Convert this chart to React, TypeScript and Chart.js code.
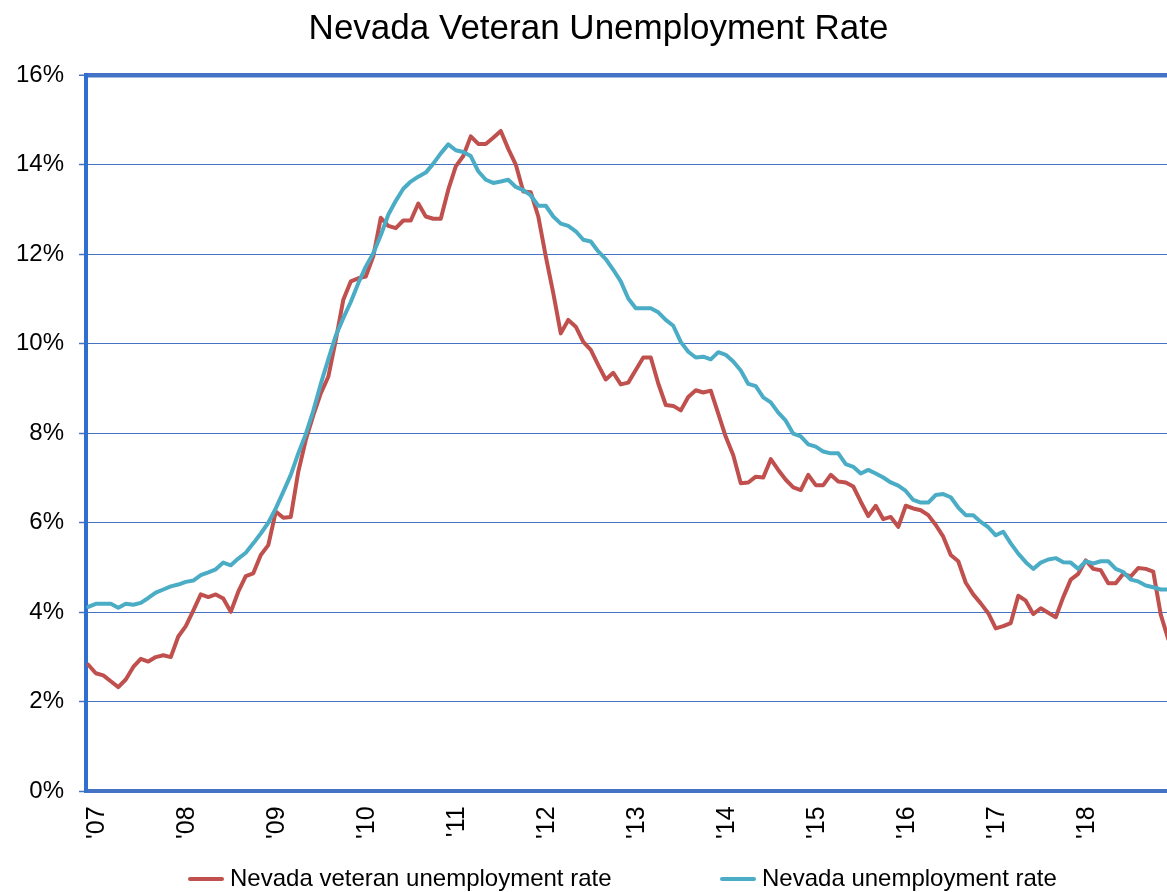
import React, { useEffect, useRef } from "react";
import { Chart, registerables } from "chart.js";

Chart.register(...registerables);

const TITLE = "Nevada Veteran Unemployment Rate";
const seriesNames = ["Nevada veteran unemployment rate", "Nevada unemployment rate"];
const yearLabels = ["'07", "'08", "'09", "'10", "'11", "'12", "'13", "'14", "'15", "'16", "'17", "'18"];
const yTicks = [0, 2, 4, 6, 8, 10, 12, 14, 16];

// Monthly values, Jan 2007 onward
const veteranRate = [
  2.83, 2.64, 2.59, 2.46, 2.33, 2.5, 2.78, 2.96, 2.9, 3.0, 3.04, 3.0,
  3.46, 3.69, 4.04, 4.4, 4.34, 4.4, 4.31, 4.01, 4.46, 4.81, 4.87, 5.28,
  5.5, 6.25, 6.11, 6.13, 7.14, 7.85, 8.4, 8.89, 9.26, 10.08, 10.98, 11.39,
  11.46, 11.5, 11.95, 12.81, 12.63, 12.58, 12.75, 12.75, 13.13, 12.84, 12.79, 12.79,
  13.44, 13.96, 14.19, 14.63, 14.46, 14.46, 14.6, 14.75, 14.35, 14.0, 13.4, 13.38,
  12.84, 11.95, 11.13, 10.23, 10.53, 10.38, 10.04, 9.86, 9.52, 9.2, 9.35, 9.09,
  9.13, 9.41, 9.69, 9.69, 9.11, 8.63, 8.61, 8.51, 8.81, 8.96, 8.91, 8.95,
  8.44, 7.92, 7.51, 6.88, 6.9, 7.03, 7.01, 7.42, 7.18, 6.96, 6.79, 6.73,
  7.07, 6.84, 6.84, 7.07, 6.92, 6.9, 6.81, 6.47, 6.15, 6.38, 6.08, 6.13,
  5.91, 6.38, 6.32, 6.28, 6.17, 5.95, 5.69, 5.28, 5.14, 4.66, 4.4, 4.2,
  3.98, 3.64, 3.69, 3.76, 4.37, 4.26, 3.96, 4.09, 3.99, 3.89, 4.34, 4.73,
  4.86, 5.16, 4.97, 4.94, 4.65, 4.65, 4.86, 4.8, 4.99, 4.97, 4.91, 3.95,
  3.4,
];

const nevadaRate = [
  4.12, 4.19, 4.19, 4.19, 4.1, 4.19, 4.17, 4.21, 4.32, 4.44, 4.51, 4.58,
  4.62, 4.68, 4.71, 4.83, 4.89, 4.96, 5.11, 5.05, 5.2, 5.33, 5.54, 5.76,
  6.0, 6.32, 6.69, 7.07, 7.55, 7.98, 8.5, 9.1, 9.65, 10.18, 10.57, 10.93,
  11.35, 11.72, 12.02, 12.42, 12.88, 13.19, 13.46, 13.62, 13.73, 13.82, 14.02, 14.25,
  14.45, 14.32, 14.28, 14.19, 13.85, 13.66, 13.59, 13.62, 13.66, 13.5, 13.43, 13.31,
  13.08, 13.08, 12.84, 12.68, 12.63, 12.51, 12.32, 12.28, 12.06, 11.89, 11.65, 11.39,
  11.01, 10.79, 10.79, 10.79, 10.7, 10.53, 10.4, 10.04, 9.82, 9.69, 9.71, 9.65,
  9.81, 9.75, 9.6, 9.4, 9.1, 9.05, 8.8, 8.69, 8.46, 8.28, 7.99, 7.93,
  7.75, 7.7, 7.59, 7.55, 7.55, 7.31, 7.25, 7.1, 7.18, 7.1, 7.01, 6.9,
  6.83, 6.71, 6.51, 6.45, 6.45, 6.62, 6.64, 6.57, 6.34, 6.17, 6.17, 6.02,
  5.9, 5.72, 5.8, 5.54, 5.31, 5.12, 4.97, 5.11, 5.18, 5.21, 5.12, 5.11,
  4.97, 5.14, 5.09, 5.14, 5.14, 4.97, 4.9, 4.73, 4.69, 4.6, 4.56, 4.51,
  4.51,
];

const RED = "#C0504D";
const BLUE = "#4BACC6";
const AXIS = "#4472C4";
const LEFT_AXIS = "#2E6FD0";
const FONT = "'Liberation Sans', Arial, Helvetica, sans-serif";

const CANVAS_W = 1196;
const CANVAS_H = 892;
const legendLeft = [188, 720];

export default function App() {
  const ref = useRef<HTMLCanvasElement>(null);

  useEffect(() => {
    if (!ref.current) return;
    const chart = new Chart(ref.current, {
      type: "line",
      data: {
        datasets: [
          {
            label: seriesNames[0],
            data: veteranRate.map((y, i) => ({ x: i, y })),
            borderColor: RED,
            backgroundColor: RED,
            borderWidth: 4,
            pointRadius: 0,
            tension: 0,
            borderJoinStyle: "round",
            borderCapStyle: "round",
            order: 1,
          },
          {
            label: seriesNames[1],
            data: nevadaRate.map((y, i) => ({ x: i, y })),
            borderColor: BLUE,
            backgroundColor: BLUE,
            borderWidth: 4,
            pointRadius: 0,
            tension: 0,
            borderJoinStyle: "round",
            borderCapStyle: "round",
            order: 0,
          },
        ],
      },
      options: {
        responsive: false,
        animation: false,
        devicePixelRatio: 1,
        layout: { padding: { left: 1, right: 0, top: 0, bottom: 38 } },
        plugins: {
          legend: { display: false },
          tooltip: { enabled: false },
          title: {
            display: true,
            text: TITLE,
            color: "#000",
            font: { family: FONT, size: 35, weight: "normal" },
            padding: { top: 8, bottom: 25 },
          },
        },
        scales: {
          x: {
            type: "linear",
            min: -0.3,
            max: 147.7,
            afterBuildTicks: (axis: any) => {
              axis.ticks = yearLabels.map((_, k) => ({ value: k * 12 }));
            },
            grid: { display: false, drawTicks: false },
            border: { display: true, color: AXIS, width: 4 },
            ticks: {
              autoSkip: false,
              maxRotation: 90,
              minRotation: 90,
              labelOffset: 9,
              padding: 15,
              color: "#000",
              font: { family: FONT, size: 25 },
              callback: (v: any) => yearLabels[Math.round(Number(v) / 12)] ?? "",
            },
          },
          y: {
            min: 0,
            max: 16,
            afterBuildTicks: (axis: any) => {
              axis.ticks = yTicks.map((v) => ({ value: v }));
            },
            grid: {
              color: AXIS,
              lineWidth: (ctx: any) => (ctx.tick && ctx.tick.value === 16 ? 4.5 : 1),
              drawTicks: true,
              tickLength: 7,
              tickColor: AXIS,
              tickWidth: 1.5,
            },
            border: { color: LEFT_AXIS, width: 4 },
            ticks: {
              padding: 15,
              color: "#000",
              font: { family: FONT, size: 24 },
              callback: (v: any) => `${v}%`,
            },
          },
        },
      },
    });
    return () => chart.destroy();
  }, []);

  const colors = [RED, BLUE];

  return (
    <div
      style={{
        position: "absolute",
        left: 0,
        top: 0,
        width: 1167,
        height: 892,
        overflow: "hidden",
        background: "#fff",
      }}
    >
      <canvas
        ref={ref}
        width={CANVAS_W}
        height={CANVAS_H}
        style={{ display: "block", width: CANVAS_W, height: CANVAS_H }}
      />
      {seriesNames.map((name, k) => (
        <div
          key={name}
          style={{
            position: "absolute",
            left: legendLeft[k],
            top: 866,
            height: 24,
            display: "flex",
            alignItems: "center",
            fontFamily: FONT,
            fontSize: 24,
            lineHeight: "24px",
            color: "#000",
            whiteSpace: "nowrap",
          }}
        >
          <span
            style={{
              display: "inline-block",
              width: 36,
              height: 4,
              background: colors[k],
              borderRadius: 2,
              marginRight: 6,
              marginTop: 2,
            }}
          />
          <span>{name}</span>
        </div>
      ))}
    </div>
  );
}
